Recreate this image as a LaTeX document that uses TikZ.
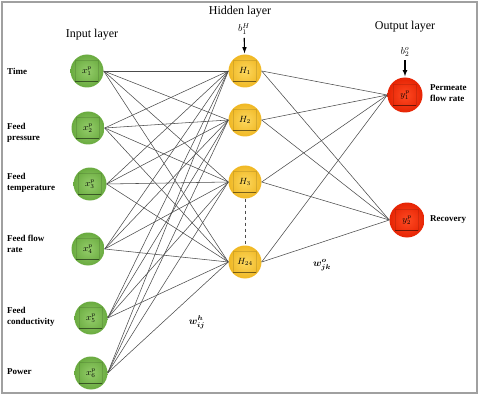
\documentclass[tikz,border=0pt]{standalone}
\usepackage{amsmath, amssymb}
\usepackage{fontspec}
\setmainfont{Liberation Serif}
\usepackage{tikz}
\usetikzlibrary{
  calc,%
  arrows,
  positioning
}
\definecolor{greenin}{HTML}{94CD6A}
\definecolor{greenout}{HTML}{6AAB40}
\definecolor{yellowin}{HTML}{FDD85E}
\definecolor{yellowout}{HTML}{F0B824}
\definecolor{redin}{HTML}{FF4A22}
\definecolor{redout}{HTML}{E62404}
\definecolor{framegray}{HTML}{A0A0A0}
\tikzset{>=latex}
\tikzset{
  neuron/.style={circle, minimum size=33pt, inner sep=0pt, shading=radial,
    font=\small,
    path picture={
      \draw[black, opacity=0.12, line width=0.4pt]
        ([shift={(-12pt,-10pt)}]path picture bounding box.center) rectangle
        ([shift={(11pt,11pt)}]path picture bounding box.center);
      \draw[black, opacity=0.45, line width=0.8pt]
        ([shift={(-12pt,-10pt)}]path picture bounding box.center) --
        ([shift={(11pt,-10pt)}]path picture bounding box.center);
    }},
  inneuron/.style={neuron, inner color=greenin, outer color=greenout},
  hidneuron/.style={neuron, inner color=yellowin, outer color=yellowout},
  outneuron/.style={neuron, minimum size=35pt, inner color=redin, outer color=redout},
  synapse/.style={draw=black!70, line width=0.55pt},
  feature/.style={font=\bfseries\small, align=left, anchor=west, inner sep=0pt},
  layername/.style={font=\large},
  bias/.style={->, line width=1.1pt, shorten >=1pt}
}
\begin{document}
\begin{tikzpicture}[x=1pt, y=-1pt]
  \useasboundingbox (0,0) rectangle (480,396);
  \draw[framegray, line width=1.5pt] (2,2) rectangle (477,393);

  % layer titles
  \node[layername] (inlayer) at (92,35) {Input layer};
  \node[layername] (hidlayer) at (240,12) {Hidden layer};
  \node[layername] (outlayer) at (405,27) {Output layer};

  % input layer
  \foreach \i/\xx/\yy/\ly/\txt in {1/87/71/71/{Time},
      2/88/128/133/{Feed\\pressure}, 3/90/184/183/{Feed\\temperature},
      4/88/249/244/{Feed flow\\rate}, 5/91/318/317/{Feed\\conductivity},
      6/91/373/372/{Power}}
  {
    \node[inneuron] (x\i) at (\xx,\yy) {$x_{\i}^{p}$};
    \node[feature] (feat\i) at (7,\ly) {\txt};
  }

  % hidden layer
  \foreach \j/\yy in {1/71, 2/120, 3/182, 24/262}
    \node[hidneuron] (h\j) at (245,\yy) {$H_{\j}$};
  \draw[dashed, thick, black!70] (h3) -- (h24);

  % output layer
  \node[outneuron] (y1) at (405,95) {$y_{1}^{p}$};
  \node[outneuron] (y2) at (407,220) {$y_{2}^{p}$};
  \node[feature] (perm) at (430,93) {Permeate\\flow rate};
  \node[feature] (recov) at (430,220) {Recovery};

  % connections
  \foreach \i in {1,...,6}
    \foreach \j in {1,2,3,24}
      \draw[synapse] (x\i.east) -- (h\j.west);
  \foreach \j in {1,2,3,24}
    \foreach \k in {1,2}
      \draw[synapse] (h\j.east) -- (y\k.west);

  % biases
  \node (bh) at (244,29) {$b_{1}^{H}$};
  \draw[bias] (bh) -- (h1);
  \node (bo) at (405,52) {$b_{2}^{o}$};
  \draw[bias] (bo) -- (y1);

  % weights
  \node (wh) at (197,322) {$\boldsymbol{w_{ij}^{h}}$};
  \node (wo) at (322,265) {$\boldsymbol{w_{jk}^{o}}$};
\end{tikzpicture}
\end{document}
